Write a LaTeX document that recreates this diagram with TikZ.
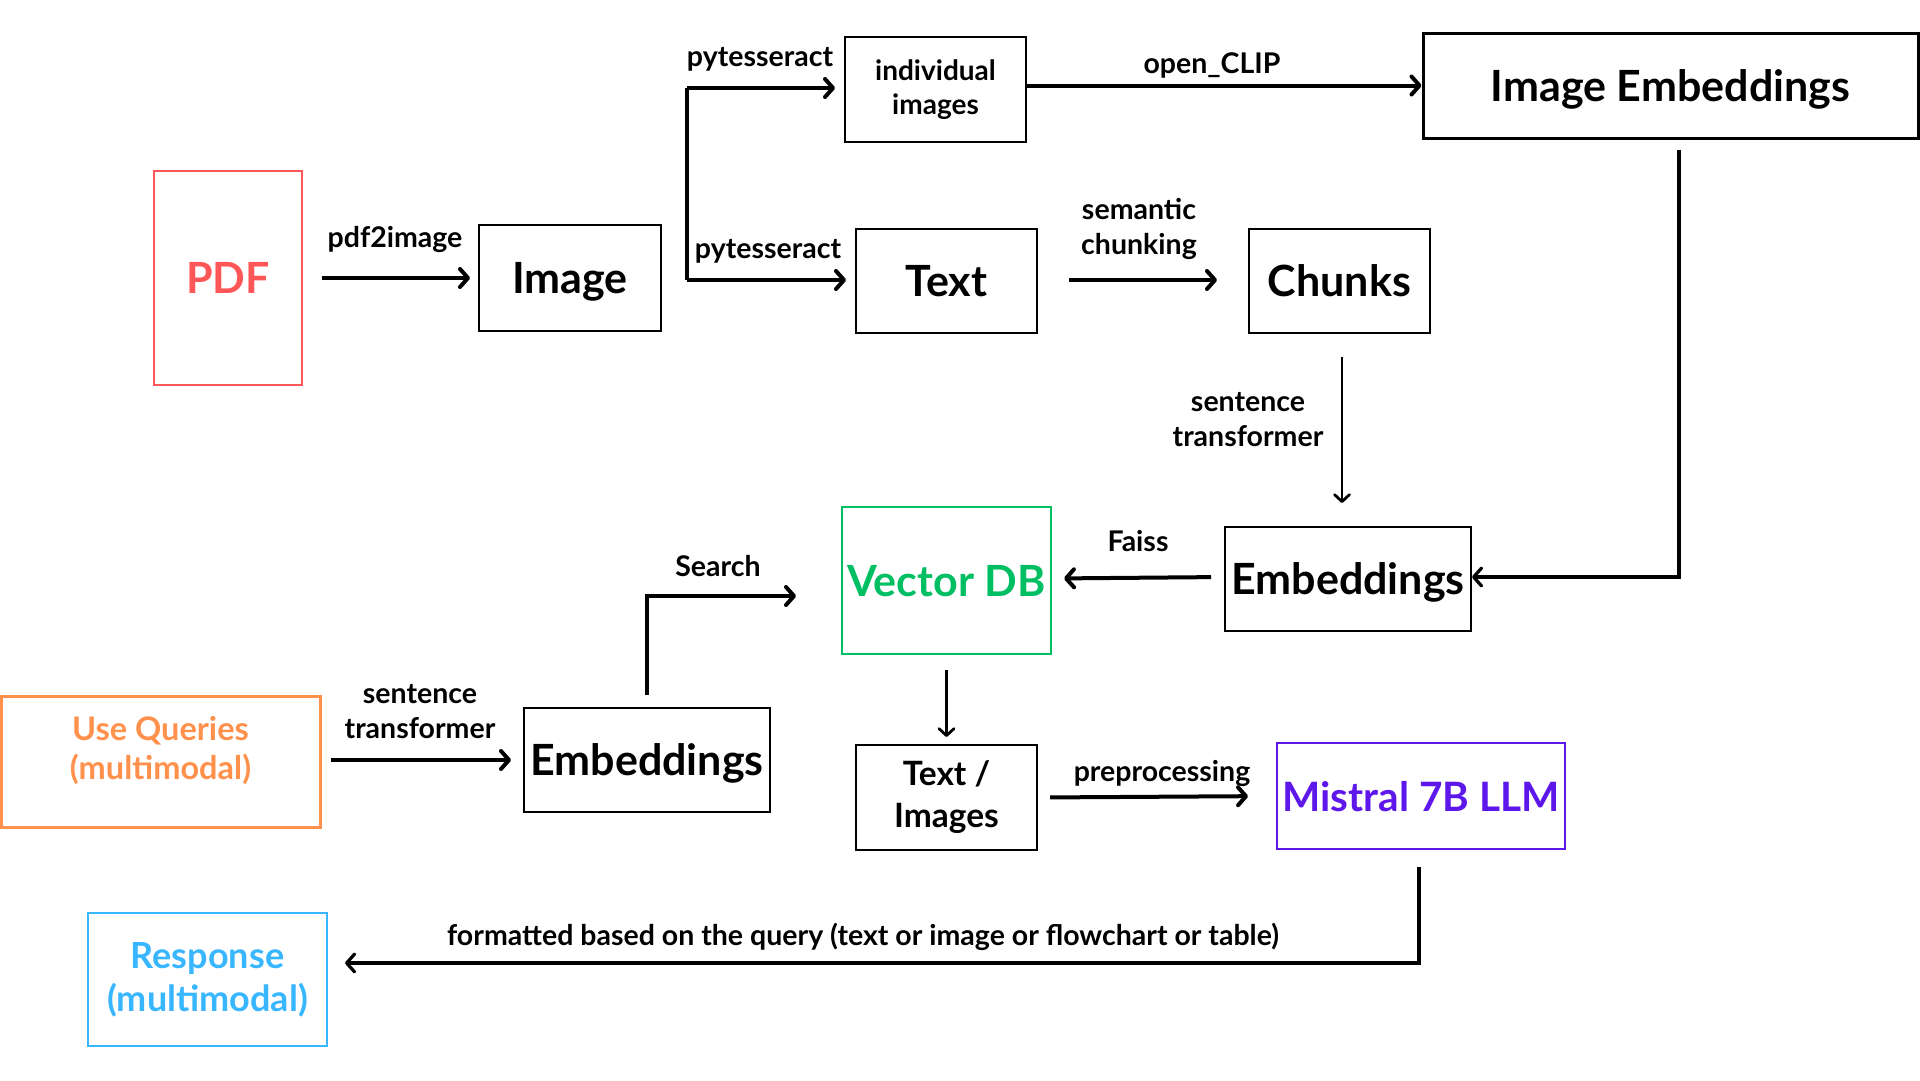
\documentclass[tikz,border=0pt]{standalone}
\usepackage{fontspec}
\setmainfont{Lato}
\usetikzlibrary{arrows.meta}
\definecolor{cpdf}{HTML}{FF5757}
\definecolor{cuq}{HTML}{FF914D}
\definecolor{cvdb}{HTML}{00BF63}
\definecolor{cmis}{HTML}{5E17EB}
\definecolor{cresp}{HTML}{38B6FF}
\tikzset{
  box/.style={draw=black, line width=2pt, inner sep=0pt, align=center, font=\fontsize{43}{50}\selectfont\bfseries},
  onel/.style={text depth=0pt},
  lbl/.style={font=\fontsize{28.5}{35}\selectfont\bfseries, align=center, inner sep=0pt},
  arr/.style={line width=4pt, -{Straight Barb[length=8pt,width=18pt,round]}},
  thinarr/.style={line width=2.8pt, -{Straight Barb[length=7pt,width=15pt,round]}},
  plainline/.style={line width=4pt},
}
\begin{document}
\begin{tikzpicture}[x=1pt,y=-1pt]
\useasboundingbox (0,0) rectangle (1920,1080);
% nodes
\node[box, onel, draw=cpdf, text=cpdf, minimum width=148pt, minimum height=214pt] (pdf) at (228,278) {PDF};
\node[box, onel, minimum width=182pt, minimum height=106pt] (img) at (570,278) {Image};
\node[box, minimum width=181pt, minimum height=105pt, font=\fontsize{28}{34}\selectfont\bfseries] (indiv) at (935.5,89.5) {individual\\images};
\node[box, onel, line width=3pt, minimum width=495pt, minimum height=105pt] (imgemb) at (1670.5,85.5) {Image Embeddings};
\node[box, onel, minimum width=181pt, minimum height=104pt] (text) at (946.5,281) {Text};
\node[box, onel, minimum width=181pt, minimum height=104pt] (chunks) at (1339.5,281) {Chunks};
\node[box, onel, minimum width=246pt, minimum height=104pt] (embR) at (1348,579) {Embeddings};
\node[box, onel, draw=cvdb, text=cvdb, minimum width=209pt, minimum height=147pt] (vdb) at (946.5,580.5) {Vector DB};
\node[box, draw=cuq, text=cuq, line width=3pt, text depth=28pt, minimum width=319pt, minimum height=131pt, font=\fontsize{32.5}{39}\selectfont\bfseries] (uq) at (160.5,761.5) {Use Queries\\(multimodal)};
\node[box, onel, minimum width=246pt, minimum height=104pt] (embL) at (647,760) {Embeddings};
\node[box, minimum width=181pt, minimum height=105pt, font=\fontsize{33.5}{42}\selectfont\bfseries] (ti) at (946.5,797.5) {Text /\\Images};
\node[box, onel, draw=cmis, text=cmis, minimum width=288pt, minimum height=106pt, font=\fontsize{40.5}{48}\selectfont\bfseries] (mis) at (1421,796) {Mistral 7B LLM};
\node[box, draw=cresp, text=cresp, minimum width=239pt, minimum height=133pt, font=\fontsize{36}{43}\selectfont\bfseries] (resp) at (207.5,979.5) {Response\\(multimodal)};
% branch coordinates
\coordinate (b1) at (687,88);
\coordinate (b2) at (687,280);
% connectors
\draw[arr, shorten <=19pt, shorten >=8pt] (pdf.east) -- (img.west);
\draw[plainline] (b1) -- (b2);
\draw[arr] (b1) -- ([xshift=-9pt]indiv.west |- b1);
\draw[arr] (b2) -- ([xshift=-9pt]text.west |- b2);
\draw[arr] (indiv.east |- imgemb.west) -- (imgemb.west);
\draw[arr, shorten <=31pt, shorten >=31pt] (text.east |- b2) -- (chunks.west |- b2);
\draw[thinarr, shorten <=23pt, shorten >=23pt] ([xshift=2.5pt]chunks.south) -- ([xshift=2.5pt]chunks.south |- embR.north);
\draw[line width=3.2pt, -{Straight Barb[length=8pt,width=18pt,round]}] ([xshift=8.5pt,yshift=-10pt]imgemb.south) |- ([yshift=2pt]embR.east);
\draw[arr, shorten <=13pt, shorten >=12pt] ([yshift=2pt]embR.west) -- ([yshift=2pt]vdb.east);
\draw[arr] ([yshift=12pt]embL.north) |- ([xshift=-45pt,yshift=-15.5pt]vdb.west);
\draw[arr, shorten <=9pt, shorten >=12pt] (uq.east |- embL.west) -- (embL.west);
\draw[thinarr, shorten <=15pt, shorten >=7pt] (vdb.south) -- (ti.north);
\draw[arr, shorten <=12pt, shorten >=28pt] (ti.east) -- (mis.west);
\draw[line width=3.2pt, -{Straight Barb[length=8pt,width=18pt,round]}] ([xshift=-2pt,yshift=-17pt]mis.south) |- ([xshift=17pt,yshift=16.5pt]resp.east);
% labels
\node[lbl] (l1) at (395,239) {pdf2image};
\node[lbl] (l2) at (760,59) {pytesseract};
\node[lbl] (l3) at (768,251) {pytesseract};
\node[lbl] (l4) at (1212,65) {open\_CLIP};
\node[lbl] (l5) at (1139,229) {semantic\\chunking};
\node[lbl] (l6) at (1248,420) {sentence\\transformer};
\node[lbl] (l7) at (1138,541) {Faiss};
\node[lbl] (l8) at (718,566) {Search};
\node[lbl] (l9) at (420,712) {sentence\\transformer};
\node[lbl] (l10) at (1162,773) {preprocessing};
\node[lbl] (l11) at (863,937) {formatted based on the query (text or image or flowchart or table)};
\end{tikzpicture}
\end{document}
